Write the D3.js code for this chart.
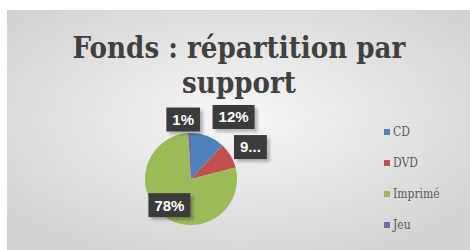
<!DOCTYPE html>
<html>
<head>
<meta charset="utf-8">
<script src="https://cdn.jsdelivr.net/npm/d3@7"></script>
<style>
  body { margin: 0; background: #fff; }
</style>
</head>
<body>
<div id="chart"></div>
<script>
// Fonds : répartition par support (camembert)
const categories = ["CD", "DVD", "Imprimé", "Jeu"];
const values = [12, 9, 78, 1];
const labels = ["12%", "9...", "78%", "1%"];
const colors = ["#4f81bd", "#c0504d", "#9bbb59", "#8064a2"];

const width = 470, height = 250;
const svg = d3.select("#chart").append("svg")
    .attr("width", width)
    .attr("height", height);

// fond dégradé
const defs = svg.append("defs");
const grad = defs.append("radialGradient").attr("id", "bg")
    .attr("cx", "50%").attr("cy", "45%").attr("r", "65%");
grad.append("stop").attr("offset", "0%").attr("stop-color", "#f7f7f7");
grad.append("stop").attr("offset", "100%").attr("stop-color", "#d2d2d2");

const shadow = defs.append("filter").attr("id", "shadow")
    .attr("x", "-20%").attr("y", "-20%").attr("width", "150%").attr("height", "160%");
shadow.append("feDropShadow").attr("dx", 3).attr("dy", 3).attr("stdDeviation", 1.5)
    .attr("flood-color", "#000").attr("flood-opacity", 0.25);

svg.append("rect")
    .attr("x", 7).attr("y", 10)
    .attr("width", width - 7).attr("height", height - 10)
    .attr("fill", "url(#bg)");

// titre
const title = svg.append("text")
    .attr("text-anchor", "middle")
    .attr("font-family", "DejaVu Serif Condensed, DejaVu Serif")
    .attr("font-stretch", "condensed")
    .attr("font-weight", "bold")
    .attr("font-size", 31)
    .attr("fill", "#404040");
title.append("tspan").attr("x", 239).attr("y", 58).text("Fonds : répartition par");
title.append("tspan").attr("x", 239).attr("y", 93).text("support");
// ajuste la largeur de la première ligne (~333 px comme l'original)
const line1 = title.select("tspan").node();
const w1 = line1.getComputedTextLength();
if (w1 > 0) title.attr("font-size", 31 * 333 / w1);

// camembert
const cx = 191, cy = 179, r = 46;
const pie = d3.pie().sort(null).value(d => d)(values);
const arc = d3.arc().innerRadius(0).outerRadius(r);

const g = svg.append("g").attr("transform", `translate(${cx},${cy})`);
g.selectAll("path").data(pie).join("path")
    .attr("d", arc)
    .attr("fill", (d, i) => colors[i]);

// étiquettes (rayon relatif par tranche)
const labelRadius = [1.45, 1.45, 0.65, 1.25];
const labelShift = [[18, 0], [2, 2], [-4, 2], [-6, -2]];
const lbl = g.selectAll("g.lbl").data(pie).join("g")
    .attr("class", "lbl")
    .attr("transform", (d, i) => {
        const [x, y] = d3.arc().innerRadius(r * labelRadius[i]).outerRadius(r * labelRadius[i]).centroid(d);
        return `translate(${x + labelShift[i][0]},${y + labelShift[i][1]})`;
    });

lbl.append("text")
    .attr("text-anchor", "middle")
    .attr("dy", "0.36em")
    .attr("font-family", "Liberation Sans")
    .attr("font-weight", "bold")
    .attr("font-size", 15)
    .attr("fill", "#fff")
    .text((d, i) => labels[i])
    .each(function () {
        const b = this.getBBox();
        d3.select(this.parentNode).insert("rect", "text")
            .attr("x", b.x - 6).attr("y", -12)
            .attr("width", b.width + 12).attr("height", 24)
            .attr("fill", "#3b3b3b")
            .attr("filter", "url(#shadow)");
    });

// légende
const legend = svg.append("g").attr("transform", "translate(384,132)");
const item = legend.selectAll("g").data(categories).join("g")
    .attr("transform", (d, i) => `translate(0,${i * 31})`);
item.append("rect")
    .attr("x", 0).attr("y", -3)
    .attr("width", 6).attr("height", 6)
    .attr("fill", (d, i) => colors[i]);
item.append("text")
    .attr("x", 9).attr("dy", "0.35em")
    .attr("font-family", "DejaVu Serif Condensed, DejaVu Serif")
    .attr("font-size", 12)
    .attr("fill", "#595959")
    .text(d => d);
</script>
</body>
</html>
